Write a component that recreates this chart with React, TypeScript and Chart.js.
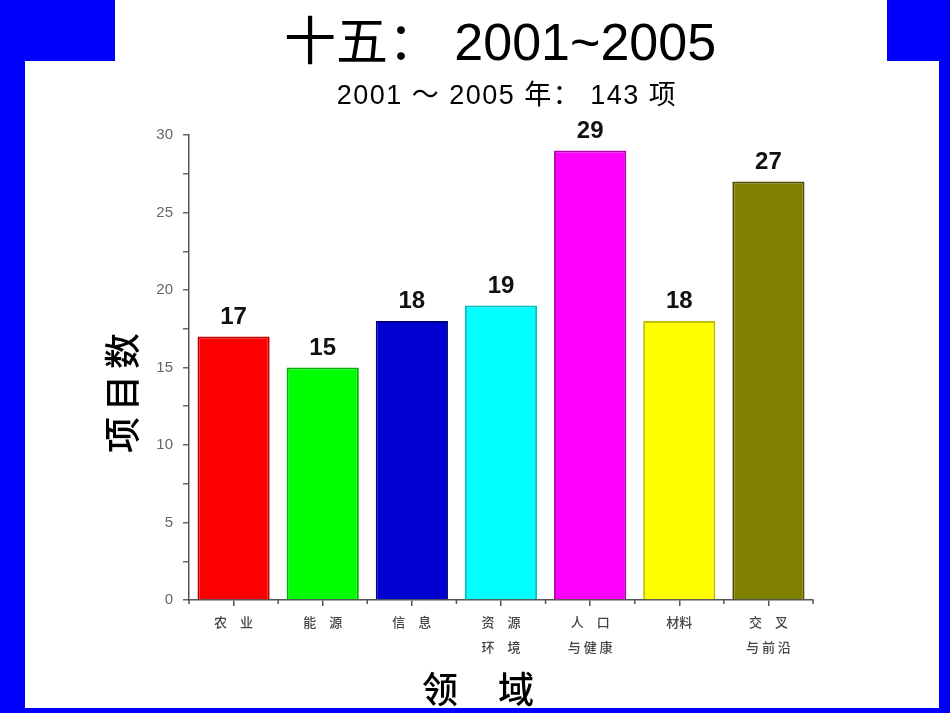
import React, { useEffect, useRef } from "react";
import { Chart, registerables } from "chart.js";

Chart.register(...registerables);

const categories: string[][] = [
  ["农\u3000业"],
  ["能\u3000源"],
  ["信\u3000息"],
  ["资\u3000源", "环\u3000境"],
  ["人\u3000口", "与 健 康"],
  ["材料"],
  ["交\u3000叉", "与 前 沿"],
];
const projectCounts: number[] = [17, 15, 18, 19, 29, 18, 27];
const barColors: string[] = ["#ff0000", "#00ff00", "#0000d0", "#00ffff", "#ff00ff", "#ffff00", "#808000"];
const barBorders: string[] = ["#c00000", "#00b000", "#000090", "#00c0c0", "#b000b0", "#c0c000", "#505000"];
const yTicksMin = 0;
const yTicksMax = 30;
const yStep = 2.5;

const titleText = "十五： 2001~2005";
const subtitleText = "2001 \uFF5E 2005 年： 143 项";
const yTitle = "项目数";
const xTitle = "领域";

const valueLabels = {
  id: "valueLabels",
  afterDatasetsDraw(chart: any) {
    const ctx = chart.ctx;
    const meta = chart.getDatasetMeta(0);
    ctx.save();
    ctx.font = "bold 24px 'Liberation Sans', Arial, sans-serif";
    ctx.fillStyle = "#111";
    ctx.textAlign = "center";
    ctx.textBaseline = "alphabetic";
    meta.data.forEach((bar: any, i: number) => {
      ctx.fillText(String(projectCounts[i]), bar.x, bar.y - 13);
    });
    ctx.restore();
  },
};

const minorTicks = {
  id: "minorTicks",
  afterDraw(chart: any) {
    const x = chart.scales.x;
    const ctx = chart.ctx;
    ctx.save();
    ctx.strokeStyle = "#555";
    ctx.lineWidth = 1.5;
    for (let i = 0; i <= categories.length; i++) {
      const px = x.getPixelForValue(i - 0.5);
      ctx.beginPath();
      ctx.moveTo(px, x.top);
      ctx.lineTo(px, x.top + 4);
      ctx.stroke();
    }
    ctx.restore();
  },
};

export default function App() {
  const ref = useRef<HTMLCanvasElement | null>(null);

  useEffect(() => {
    if (!ref.current) return;
    const chart = new Chart(ref.current, {
      type: "bar",
      data: {
        labels: categories,
        datasets: [
          {
            data: projectCounts,
            backgroundColor: barColors,
            borderColor: barBorders,
            borderWidth: 2,
            barPercentage: 0.81,
            categoryPercentage: 1,
          },
        ],
      },
      options: {
        animation: false,
        responsive: false,
        maintainAspectRatio: false,
        layout: { padding: { left: 100, right: 137, top: 135, bottom: 0 } },
        plugins: {
          legend: { display: false },
          tooltip: { enabled: false },
          title: { display: false },
        },
        scales: {
          x: {
            afterFit: (s: any) => {
              s.height = 113;
            },
            grid: {
              offset: false,
              drawOnChartArea: false,
              drawTicks: true,
              tickLength: 6,
              color: "#555",
              lineWidth: 1.5,
            },
            border: { color: "#555", width: 1.5 },
            ticks: {
              autoSkip: false,
              maxRotation: 0,
              padding: 4,
              color: "#444",
              font: { family: "'Noto Sans CJK SC', sans-serif", size: 13, weight: 500, lineHeight: "25px" },
            },
          },
          y: {
            min: yTicksMin,
            max: yTicksMax,
            afterFit: (s: any) => {
              s.width = 89;
            },
            grid: {
              drawOnChartArea: false,
              drawTicks: true,
              tickLength: 6,
              color: "#666",
              lineWidth: 1.5,
            },
            border: { color: "#555", width: 1.5 },
            ticks: {
              stepSize: yStep,
              padding: 10,
              color: "#666",
              font: { family: "'Liberation Sans', Arial, sans-serif", size: 15 },
              callback: (v: any) => (Number(v) % 5 === 0 ? String(v) : ""),
            },
          },
        },
      },
      plugins: [valueLabels, minorTicks],
    });
    return () => chart.destroy();
  }, []);

  const abs: React.CSSProperties = { position: "absolute" };
  return (
    <div style={{ position: "fixed", left: 0, top: 0, width: 950, height: 713, background: "#0000ff", overflow: "hidden" }}>
      <div style={{ ...abs, left: 115, top: 0, width: 772, height: 61, background: "#fff" }} />
      <div style={{ ...abs, left: 25, top: 61, width: 914, height: 647, background: "#fff" }} />
      <canvas ref={ref} width={950} height={713} style={{ ...abs, left: 0, top: 0, width: 950, height: 713 }} />
      <div
        style={{
          ...abs,
          left: 500,
          top: 16,
          transform: "translateX(-50%)",
          whiteSpace: "nowrap",
          font: "52px/52px 'Liberation Sans', 'Noto Sans CJK SC', sans-serif",
          color: "#000",
        }}
      >
        {titleText}
      </div>
      <div
        style={{
          ...abs,
          left: 507,
          top: 82,
          transform: "translateX(-50%)",
          whiteSpace: "nowrap",
          letterSpacing: 1.5,
          font: "27px/27px 'Liberation Sans', 'Noto Sans CJK SC', sans-serif",
          color: "#000",
        }}
      >
        {subtitleText}
      </div>
      <div
        style={{
          ...abs,
          left: 120,
          top: 390,
          transform: "translate(-50%, -50%) rotate(-90deg)",
          whiteSpace: "nowrap",
          letterSpacing: 6,
          font: "500 36px/36px 'Noto Sans CJK SC', sans-serif",
          color: "#000",
        }}
      >
        {yTitle}
      </div>
      <div
        style={{
          ...abs,
          left: 422,
          top: 669,
          whiteSpace: "nowrap",
          letterSpacing: 40,
          font: "500 36px/36px 'Noto Sans CJK SC', sans-serif",
          color: "#000",
        }}
      >
        {xTitle}
      </div>
    </div>
  );
}
